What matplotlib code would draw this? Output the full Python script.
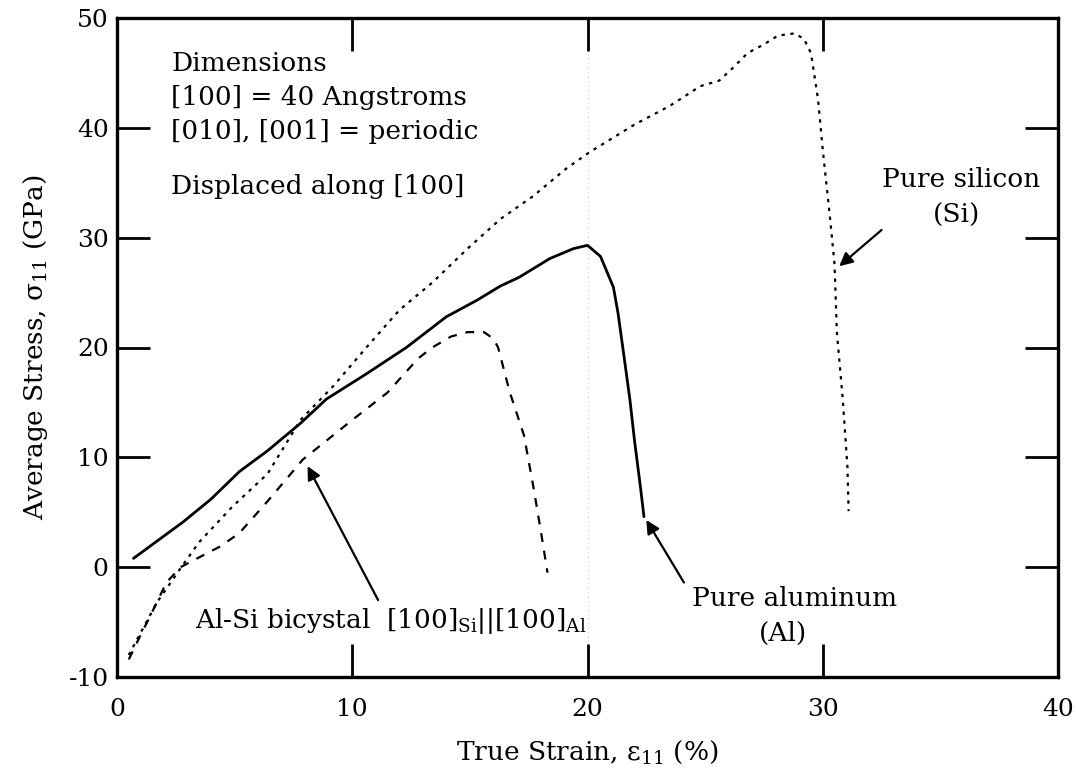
import matplotlib
matplotlib.use("Agg")
import matplotlib.pyplot as plt

plt.rcParams['font.family'] = ['DejaVu Serif']
plt.rcParams['mathtext.fontset'] = 'dejavuserif'
plt.rcParams['axes.unicode_minus'] = False

# pure aluminum, solid
al_x = [0.7, 2.8, 4.0, 5.2, 6.4, 7.8, 8.9, 10.6, 12.3, 14.0, 15.3, 16.3, 17.1,
        18.4, 19.4, 20.0, 20.55, 21.1, 21.3, 21.5, 21.8, 22.0, 22.25, 22.4]
al_y = [0.8, 4.1, 6.2, 8.7, 10.6, 13.1, 15.3, 17.6, 20.0, 22.8, 24.3, 25.6, 26.4,
        28.1, 29.0, 29.3, 28.3, 25.5, 23.1, 20.0, 15.3, 11.5, 7.3, 4.6]

# pure silicon, dotted
si_x = [0.5, 1.1, 1.7, 2.8, 3.5, 4.9, 6.4, 7.8, 9.2, 10.6, 12.0, 13.4, 14.9,
        16.3, 17.7, 19.1, 20.1, 22.0, 23.5, 24.8, 25.6, 26.2, 26.8, 27.5, 28.1,
        28.8, 29.2, 29.5, 29.8, 30.0, 30.3, 30.5, 30.6, 30.85, 31.05, 31.1]
si_y = [-8.0, -5.6, -3.2, 0.2, 2.3, 5.5, 8.5, 13.4, 16.5, 20.0, 23.4, 25.9, 29.0,
        31.7, 33.8, 36.3, 37.8, 40.3, 42.0, 43.8, 44.3, 45.5, 46.8, 47.6, 48.4,
        48.6, 48.1, 46.8, 42.6, 38.0, 32.0, 27.6, 21.4, 15.3, 9.1, 5.1]

# Al-Si bicrystal, dashed
bi_x = [0.5, 1.0, 1.4, 2.1, 2.7, 3.5, 4.4, 5.2, 6.4, 7.9, 10.0, 11.5, 12.8,
        13.4, 14.2, 14.9, 15.6, 16.0, 16.2, 16.7, 17.3, 17.7, 18.0, 18.3]
bi_y = [-8.4, -6.2, -4.5, -1.4, 0.0, 0.9, 1.9, 3.1, 6.0, 9.8, 13.4, 15.9, 19.0,
        20.0, 21.0, 21.4, 21.4, 20.8, 20.0, 15.9, 12.0, 7.3, 3.5, -0.5]

x_ticks = [0, 10, 20, 30, 40]
y_ticks = [-10, 0, 10, 20, 30, 40, 50]

fs = 19   # labels and notes
fst = 18  # tick labels

fig = plt.figure(figsize=(10.76, 7.75), dpi=100)
ax = fig.add_axes([117/1076, 1 - 677/775, (1058 - 117)/1076, (677 - 18)/775])

ax.axvline(20, color='#cfcfcf', lw=0.8, ls=(0, (1, 3)), zorder=1)

ax.plot(al_x, al_y, color='k', lw=2.0, solid_capstyle='round', zorder=3)
ax.plot(si_x, si_y, color='k', lw=1.6, ls=(0, (1.5, 2.5)), zorder=3)
ax.plot(bi_x, bi_y, color='k', lw=1.6, ls=(0, (4, 4)), zorder=3)

ax.set_xlim(0, 40)
ax.set_ylim(-10, 50)
ax.set_xticks(x_ticks)
ax.set_yticks(y_ticks)
ax.tick_params(direction='in', length=24, width=2, top=True, right=True,
               labelsize=fst, colors='k')
ax.tick_params(axis='x', pad=15)
ax.tick_params(axis='y', pad=6)
for s in ax.spines.values():
    s.set_linewidth(2.4)

ax.set_xlabel('True Strain, ε$_{11}$ (%)', fontsize=fs)
ax.set_ylabel('Average Stress, σ$_{11}$ (GPa)', fontsize=fs)
ax.xaxis.set_label_coords(0.5, -0.094)
ax.yaxis.set_label_coords(-0.071, 0.5)

# notes, upper left
ax.text(2.3, 45.2, 'Dimensions', fontsize=fs, va='baseline')
ax.text(2.3, 42.1, '[100] = 40 Angstroms', fontsize=fs, va='baseline')
ax.text(2.3, 39.0, '[010], [001] = periodic', fontsize=fs, va='baseline')
ax.text(2.3, 34.0, 'Displaced along [100]', fontsize=fs, va='baseline')

# labels with arrows
arr = dict(arrowstyle='-|>', color='k', lw=1.6, mutation_scale=20, shrinkA=0, shrinkB=0)
ax.text(35.9, 34.6, 'Pure silicon', fontsize=fs, ha='center', va='baseline')
ax.text(35.7, 31.3, '(Si)', fontsize=fs, ha='center', va='baseline')
ax.annotate('', xy=(30.7, 27.4), xytext=(32.5, 30.7), arrowprops=arr)

ax.text(28.8, -3.5, 'Pure aluminum', fontsize=fs, ha='center', va='baseline')
ax.text(28.3, -6.7, '(Al)', fontsize=fs, ha='center', va='baseline')
ax.annotate('', xy=(22.5, 4.3), xytext=(24.1, -1.4), arrowprops=arr)

ax.text(3.3, -5.5, r'Al-Si bicystal  [100]$_{\mathrm{Si}}$||[100]$_{\mathrm{Al}}$',
        fontsize=fs, va='baseline')
ax.annotate('', xy=(8.1, 9.2), xytext=(11.1, -3.0), arrowprops=arr)

fig.savefig('out.png', dpi=100)
